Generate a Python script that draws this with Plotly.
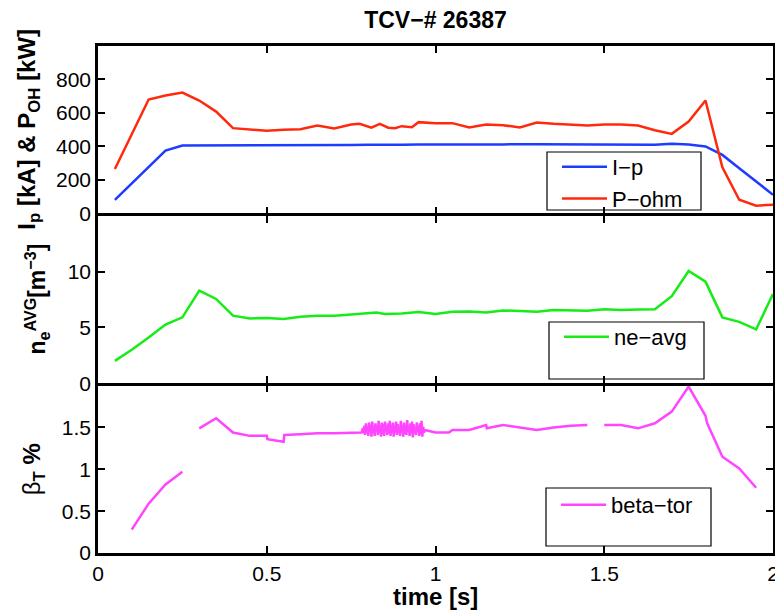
import numpy as np
import plotly.graph_objects as go

SHOT = "TCV−# 26387"

# Plasma current I_p [kA]
t_ip = [0.05, 0.10, 0.15, 0.20, 0.25, 0.30, 0.35, 0.40, 0.50, 0.60, 0.70, 0.75,
        0.80, 0.85, 0.90, 0.95, 1.00, 1.10, 1.20, 1.30, 1.40, 1.50, 1.60, 1.65,
        1.70, 1.75, 1.80, 1.85, 1.90, 1.95, 2.00]
ip_ka = [81, 178, 280, 375, 405, 405, 407, 408, 408, 409, 409, 408,
         410, 412, 410, 411, 412, 412, 412, 413, 412, 412, 411, 410,
         416, 412, 400, 349, 270, 190, 111]

# Ohmic power P_OH [kW]
t_poh = [0.05, 0.15, 0.20, 0.25, 0.30, 0.35, 0.40, 0.45, 0.50, 0.55, 0.60, 0.65,
         0.70, 0.75, 0.775, 0.81, 0.835, 0.86, 0.88, 0.90, 0.93, 0.95, 1.00, 1.05,
         1.10, 1.15, 1.20, 1.25, 1.30, 1.35, 1.40, 1.45, 1.50, 1.55, 1.60, 1.65,
         1.70, 1.75, 1.80, 1.85, 1.90, 1.95, 2.00]
poh_kw = [265, 680, 704, 722, 674, 608, 509, 500, 493, 500, 502, 525,
          507, 531, 535, 512, 535, 512, 509, 521, 515, 545, 539, 539,
          513, 531, 527, 513, 543, 535, 530, 525, 531, 531, 525, 497,
          475, 549, 674, 275, 81, 46, 51]

# Line-averaged electron density n_e^AVG
t_ne = [0.05, 0.10, 0.15, 0.20, 0.25, 0.30, 0.35, 0.40, 0.45, 0.50, 0.55, 0.60,
        0.65, 0.70, 0.75, 0.80, 0.825, 0.85, 0.90, 0.95, 1.00, 1.05, 1.10, 1.15,
        1.20, 1.25, 1.30, 1.35, 1.40, 1.45, 1.50, 1.55, 1.60, 1.65, 1.70, 1.75,
        1.80, 1.85, 1.90, 1.95, 2.00]
ne_avg = [2.0, 3.0, 4.1, 5.25, 5.9, 8.3, 7.55, 6.05, 5.8, 5.85, 5.75, 5.95,
          6.05, 6.05, 6.15, 6.25, 6.33, 6.2, 6.25, 6.37, 6.2, 6.4, 6.43, 6.34,
          6.52, 6.47, 6.4, 6.55, 6.52, 6.49, 6.63, 6.55, 6.6, 6.62, 7.8, 10.05,
          9.1, 5.9, 5.5, 4.83, 8.0]

# Toroidal beta [%], ramp-up segment
t_beta_a = [0.10, 0.15, 0.20, 0.25]
beta_a = [0.28, 0.59, 0.82, 0.97]
# flat-top before the fast-sampled window
t_beta_b = [0.30, 0.35, 0.40, 0.45, 0.50, 0.502, 0.55, 0.552, 0.60, 0.65, 0.70,
            0.75, 0.78]
beta_b = [1.49, 1.61, 1.44, 1.40, 1.40, 1.36, 1.33, 1.41, 1.42, 1.43, 1.43,
          1.44, 1.44]
# fast-sampled window 0.78 - 0.968 s
beta_fast = [1.45, 1.49, 1.43, 1.52, 1.41, 1.55, 1.44, 1.50, 1.40, 1.56, 1.45, 1.53,
             1.39, 1.57, 1.43, 1.51, 1.40, 1.55, 1.46, 1.52, 1.41, 1.58, 1.44, 1.50,
             1.39, 1.56, 1.42, 1.54, 1.40, 1.57, 1.45, 1.51, 1.41, 1.55, 1.43, 1.58,
             1.40, 1.53, 1.44, 1.56, 1.39, 1.52, 1.45, 1.57, 1.41, 1.54, 1.43, 1.50,
             1.40, 1.58, 1.44, 1.52, 1.39, 1.56, 1.42, 1.53, 1.41, 1.59, 1.45, 1.51,
             1.40, 1.55, 1.43, 1.57, 1.38, 1.54, 1.44, 1.50, 1.41, 1.56, 1.45, 1.52,
             1.40, 1.55, 1.42, 1.58, 1.39, 1.51, 1.44, 1.47]
t_beta_fast = np.linspace(0.782, 0.968, len(beta_fast))
# flat-top after the window, up to the data gap
t_beta_c = [1.00, 1.04, 1.05, 1.10, 1.15, 1.152, 1.20, 1.25, 1.30, 1.35, 1.40, 1.45]
beta_c = [1.44, 1.44, 1.47, 1.47, 1.53, 1.49, 1.53, 1.50, 1.47, 1.50, 1.52, 1.53]
# end of discharge
t_beta_d = [1.50, 1.55, 1.60, 1.65, 1.70, 1.75, 1.80, 1.805, 1.85, 1.90, 1.95]
beta_d = [1.53, 1.53, 1.49, 1.55, 1.69, 1.99, 1.64, 1.55, 1.15, 1.01, 0.78]

# join the segments, with None marking the acquisition gaps
t_beta = (t_beta_a + [0.275] + t_beta_b + list(t_beta_fast) + t_beta_c
          + [1.475] + t_beta_d)
beta_tor = (beta_a + [None] + beta_b + beta_fast + beta_c + [None] + beta_d)

FONT = "Liberation Sans, Arial, Helvetica, sans-serif"
BLUE = "#1d3cff"
RED = "#ff2a0e"
GREEN = "#16ec16"
MAGENTA = "#ff45ff"
LW = 2.5
AXLW = 2.5

W, H = 775, 610
ML, MR, MT, MB = 98, 2, 46, 57
PW, PH = W - ML - MR, H - MT - MB

# three stacked panels; a gap of one axis-line width lets the shared
# borders of neighbouring panels fall on the same pixels
gap = AXLW / PH
hpan = (1 - 2 * gap) / 3
dom3 = [0, hpan]
dom2 = [hpan + gap, 2 * hpan + gap]
dom1 = [2 * hpan + 2 * gap, 1]

fig = go.Figure()

fig.add_trace(go.Scatter(x=t_ip, y=ip_ka, mode="lines", name="I−p",
                         line=dict(color=BLUE, width=LW), legend="legend",
                         xaxis="x", yaxis="y"))
fig.add_trace(go.Scatter(x=t_poh, y=poh_kw, mode="lines", name="P−ohm",
                         line=dict(color=RED, width=LW), legend="legend",
                         xaxis="x", yaxis="y"))
fig.add_trace(go.Scatter(x=t_ne, y=ne_avg, mode="lines", name="ne−avg",
                         line=dict(color=GREEN, width=LW), legend="legend2",
                         xaxis="x2", yaxis="y2"))
fig.add_trace(go.Scatter(x=[None], y=[None], mode="lines", name=" ",
                         line=dict(color="rgba(0,0,0,0)", width=LW),
                         legend="legend2", hoverinfo="skip",
                         xaxis="x2", yaxis="y2"))
fig.add_trace(go.Scatter(x=t_beta, y=beta_tor, mode="lines", name="beta−tor",
                         connectgaps=False,
                         line=dict(color=MAGENTA, width=LW), legend="legend3",
                         xaxis="x3", yaxis="y3"))
fig.add_trace(go.Scatter(x=[None], y=[None], mode="lines", name=" ",
                         line=dict(color="rgba(0,0,0,0)", width=LW),
                         legend="legend3", hoverinfo="skip",
                         xaxis="x3", yaxis="y3"))

axis_common = dict(showline=True, linewidth=AXLW, linecolor="black",
                   mirror="ticks", ticks="inside", ticklen=7, tickwidth=1.5,
                   tickcolor="black", showgrid=False, zeroline=False,
                   automargin=False,
                   tickfont=dict(family=FONT, size=21, color="black"))

xcommon = dict(range=[0, 2], tickvals=[0, 0.5, 1, 1.5, 2],
               ticktext=["0", "0.5", "1", "1.5", "2"], domain=[0, 1],
               **axis_common)

layout_axes = dict(
    xaxis=dict(anchor="y", showticklabels=False, **xcommon),
    xaxis2=dict(anchor="y2", matches="x", showticklabels=False, **xcommon),
    xaxis3=dict(anchor="y3", matches="x", ticklabeloverflow="allow", **xcommon),
    yaxis=dict(anchor="x", domain=dom1, range=[0, 1000],
               tickvals=[0, 200, 400, 600, 800], **axis_common),
    yaxis2=dict(anchor="x2", domain=dom2, range=[0, 15],
                tickvals=[0, 5, 10], **axis_common),
    yaxis3=dict(anchor="x3", domain=dom3, range=[0, 2],
                tickvals=[0, 0.5, 1, 1.5], ticktext=["0", "0.5", "1", "1.5"],
                **axis_common),
)


def px_x(x):
    return (x - ML) / PW


def px_y(y):
    return (H - MB - y) / PH


# legend frames (pixel corners converted to paper coordinates)
boxes = [(547, 152, 701, 210), (549, 322, 704, 379), (546, 488, 711, 546)]
shapes = []
for (x0, y0, x1, y1) in boxes:
    shapes.append(dict(type="rect", xref="paper", yref="paper",
                       x0=px_x(x0), x1=px_x(x1), y0=px_y(y1), y1=px_y(y0),
                       line=dict(color="black", width=1.2), fillcolor="white",
                       layer="below"))

leg_common = dict(bgcolor="rgba(0,0,0,0)", borderwidth=0,
                  font=dict(family=FONT, size=22, color="black"),
                  xanchor="left", yanchor="top", itemwidth=45,
                  tracegroupgap=0)
leg_tops = [146, 316, 484]
legs = {}
for name, (x0, y0, x1, y1), yt in zip(["legend", "legend2", "legend3"],
                                      boxes, leg_tops):
    legs[name] = dict(x=px_x(x0 + 10), y=px_y(yt), **leg_common)

# axis titles
annots = [
    dict(text="<b>I<sub>p</sub> [kA] & P<sub>OH</sub> [kW]</b>",
         x=px_x(29), y=(dom1[0] + dom1[1]) / 2, font_size=24),
    dict(text="<b>n<sub>e</sub><sup>AVG</sup>[m<sup>−3</sup>]</b>",
         x=px_x(36), y=(dom2[0] + dom2[1]) / 2, font_size=23),
    dict(text="β<sub><b>T</b></sub> <b>%</b>", x=px_x(33),
         y=(dom3[0] + dom3[1]) / 2, font_size=24),
]
annotations = []
for a in annots:
    fs = a.pop("font_size")
    annotations.append(dict(xref="paper", yref="paper", textangle=-90,
                            xanchor="center", yanchor="middle", showarrow=False,
                            font=dict(family=FONT, size=fs, color="black"), **a))

annotations.append(dict(text="<b>time [s]</b>", xref="paper", yref="paper",
                        x=0.5, y=px_y(596), xanchor="center", yanchor="middle",
                        showarrow=False,
                        font=dict(family=FONT, size=24, color="black")))

fig.update_layout(
    width=W, height=H,
    margin=dict(l=ML, r=MR, t=MT, b=MB, autoexpand=False),
    paper_bgcolor="white", plot_bgcolor="white",
    title=dict(text="<b>" + SHOT + "</b>", x=0.5, xref="paper",
               y=1 - 20 / H, yref="container", xanchor="center",
               yanchor="middle", font=dict(family=FONT, size=23, color="black")),
    showlegend=True,
    shapes=shapes,
    annotations=annotations,
    **layout_axes,
    **legs,
)

fig.write_html("out.html")
